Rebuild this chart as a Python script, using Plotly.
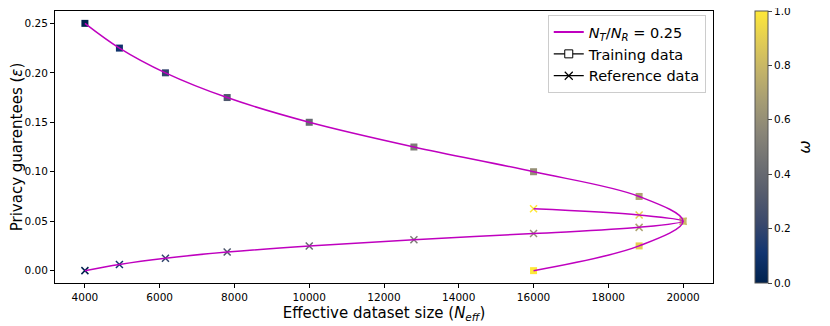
import plotly.graph_objects as go

# Weight omega for each point, colour-mapped with cividis
omega = [0.0, 0.1, 0.2, 0.3, 0.4, 0.5, 0.6, 0.7, 0.8, 0.9, 1.0]

# Effective dataset size per omega
n_eff = [4000, 4923, 6154, 7805, 10000, 12800, 16000, 18824, 20000, 18824, 16000]

# Privacy guarantees for training and reference data
eps_train = [0.25, 0.225, 0.2, 0.175, 0.15, 0.125, 0.1, 0.075, 0.05, 0.025, 0.0]
eps_ref = [0.0, 0.00625, 0.0125, 0.01875, 0.025, 0.03125, 0.0375, 0.04375, 0.05, 0.05625, 0.0625]

MAGENTA = '#bf00bf'
FONT = 'DejaVu Sans'

fig = go.Figure()

# Markers (drawn first so the curve sits on top)
fig.add_trace(go.Scatter(
    x=n_eff, y=eps_train, mode='markers', showlegend=False,
    marker=dict(symbol='square', size=7, color=omega, colorscale='Cividis',
                cmin=0, cmax=1, line=dict(width=0),
                showscale=True,
                colorbar=dict(x=1.064, xanchor='left', xpad=0, y=0.5, len=1, ypad=0,
                              thickness=13, outlinewidth=1, outlinecolor='#555',
                              ticks='outside', ticklen=4, tickvals=[0, 0.2, 0.4, 0.6, 0.8, 1.0],
                              tickformat='.1f', ticklabeloverflow='allow',
                              tickfont=dict(size=10.5, family=FONT, color='black'))),
))
fig.add_trace(go.Scatter(
    x=n_eff, y=eps_ref, mode='markers', showlegend=False,
    marker=dict(symbol='x-thin', size=7, color=omega, colorscale='Cividis', cmin=0, cmax=1,
                line=dict(width=1.5, color=omega, colorscale='Cividis', cmin=0, cmax=1)),
))

# Smooth curves through the points
fig.add_trace(go.Scatter(x=n_eff, y=eps_train, mode='lines', showlegend=False,
                         line=dict(color=MAGENTA, width=1.5, shape='spline', smoothing=1.0)))
fig.add_trace(go.Scatter(x=n_eff, y=eps_ref, mode='lines', showlegend=False,
                         line=dict(color=MAGENTA, width=1.5, shape='spline', smoothing=1.0)))

# Legend entries
fig.add_trace(go.Scatter(x=[None], y=[None], mode='lines',
                         name='<i>N</i><sub><i>T</i></sub>/<i>N</i><sub><i>R</i></sub> = 0.25',
                         line=dict(color=MAGENTA, width=1.8)))
fig.add_trace(go.Scatter(x=[None], y=[None], mode='lines+markers', name='Training data',
                         line=dict(color='black', width=1.2),
                         marker=dict(symbol='square', size=8, color='white',
                                     line=dict(color='black', width=1))))
fig.add_trace(go.Scatter(x=[None], y=[None], mode='lines+markers', name='Reference data',
                         line=dict(color='black', width=1.2),
                         marker=dict(symbol='x-thin', size=8, color='black',
                                     line=dict(color='black', width=1.2))))

axis_common = dict(showgrid=False, zeroline=False, showline=True, linecolor='black', linewidth=1,
                   mirror=True, ticks='outside', ticklen=4, tickcolor='black',
                   tickfont=dict(size=10.5, family=FONT, color='black'))

# page body has an 8px margin, so the margins are shifted to compensate
fig.update_layout(
    width=822, height=318,
    margin=dict(l=47, r=117, t=3, b=43, autoexpand=False),
    paper_bgcolor='white', plot_bgcolor='white',
    font=dict(family=FONT, color='black'),
    xaxis=dict(range=[3200, 20800], tickvals=list(range(4000, 20001, 2000)), tickformat='d',
               title=dict(text='Effective dataset size (<i>N</i><sub><i>eff</i></sub>)',
                          font=dict(size=15), standoff=5),
               automargin=False, **axis_common),
    yaxis=dict(range=[-0.0125, 0.2625], tickvals=[0, 0.05, 0.1, 0.15, 0.2, 0.25], tickformat='.2f',
               title=dict(text='Privacy guarentees (<i>ε</i>)', font=dict(size=15), standoff=6),
               automargin=False, **axis_common),
    legend=dict(x=0.989, xanchor='right', y=0.985, yanchor='top', bgcolor='rgba(255,255,255,0.8)',
                bordercolor='#cccccc', borderwidth=1, font=dict(size=14.5, family=FONT),
                tracegroupgap=0),
    annotations=[dict(text='<i>ω</i>', xref='paper', yref='paper', x=1.138, xanchor='center',
                      y=0.5, showarrow=False, textangle=-90, font=dict(size=16, family=FONT))],
)

fig.write_html("out.html")
